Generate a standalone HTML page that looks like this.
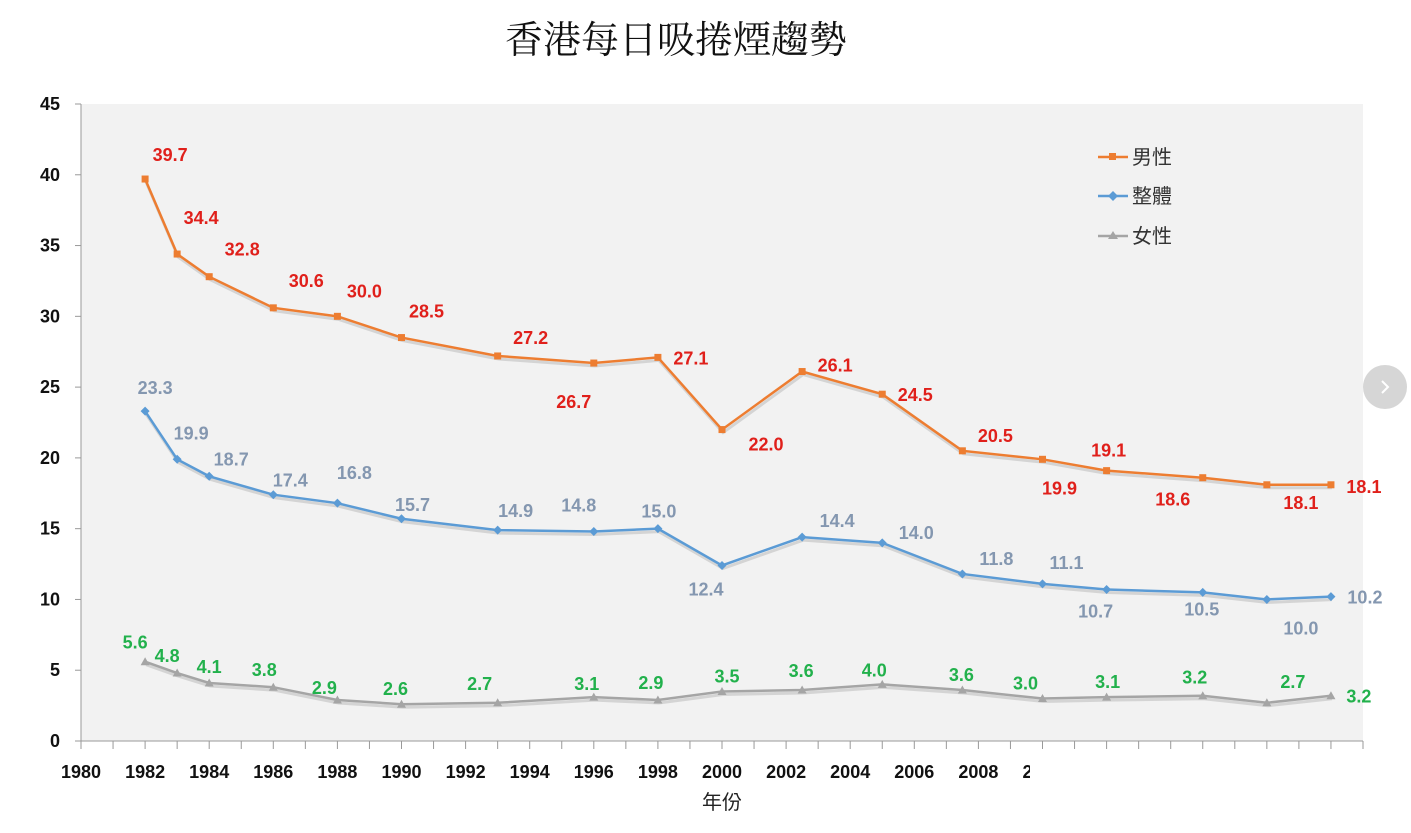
<!DOCTYPE html>
<html><head><meta charset="utf-8"><style>
body{margin:0;background:#fff;width:1411px;height:828px;overflow:hidden;font-family:"Liberation Sans","Noto Sans CJK TC",sans-serif}
svg text{font-family:"Liberation Sans","Noto Sans CJK TC",sans-serif}
</style></head><body>
<svg id="c" width="1411" height="828" xmlns="http://www.w3.org/2000/svg">
<text x="676" y="53" text-anchor="middle" font-size="38" style="font-family:'Noto Serif CJK TC','Noto Sans CJK TC',serif" fill="#111">香港每日吸捲煙趨勢</text>
<rect x="81" y="104" width="1282" height="637" fill="#f2f2f2"/>
<g id="axes"></g><g id="series"></g>
<text x="722" y="809" text-anchor="middle" font-size="20" fill="#222">年份</text>
<g>
<g><line x1="1098" y1="157" x2="1128" y2="157" stroke="#ed7d31" stroke-width="2.5"/><rect x="1109" y="153" width="7" height="7" fill="#ed7d31"/><text x="1132" y="164" font-size="20" fill="#333">男性</text></g>
<g><line x1="1098" y1="196" x2="1128" y2="196" stroke="#5b9bd5" stroke-width="2.5"/><path d="M1113 191l5 5-5 5-5-5z" fill="#5b9bd5"/><text x="1132" y="203" font-size="20" fill="#333">整體</text></g>
<g><line x1="1098" y1="236" x2="1128" y2="236" stroke="#a5a5a5" stroke-width="2.5"/><path d="M1113 231l5 8h-10z" fill="#a5a5a5"/><text x="1132" y="243" font-size="20" fill="#333">女性</text></g>
</g>
<rect x="1030" y="758" width="381" height="70" fill="#fff"/>
<g><circle cx="1385" cy="387" r="22" fill="#d6d6d6"/><path d="M1382 381l6 6-6 6" stroke="#fff" stroke-width="2" fill="none"/></g>
</svg>
<script>
const years=[1982,1983,1984,1986,1988,1990,1993,1996,1998,2000,2002.5,2005,2007.5,2010,2012,2015,2017,2019];
const male=[39.7,34.4,32.8,30.6,30.0,28.5,27.2,26.7,27.1,22.0,26.1,24.5,20.5,19.9,19.1,18.6,18.1,18.1];
const overall=[23.3,19.9,18.7,17.4,16.8,15.7,14.9,14.8,15.0,12.4,14.4,14.0,11.8,11.1,10.7,10.5,10.0,10.2];
const female=[5.6,4.8,4.1,3.8,2.9,2.6,2.7,3.1,2.9,3.5,3.6,4.0,3.6,3.0,3.1,3.2,2.7,3.2];
const yTicks=[0,5,10,15,20,25,30,35,40,45];
const xTickLabels=[1980,1982,1984,1986,1988,1990,1992,1994,1996,1998,2000,2002,2004,2006,2008,2010];
const maleDx=[25,24,33,33,27,25,33,-20,33,44,33,33,33,17,2,-30,34,33],maleDy=[-24,-36,-27,-27,-25,-26,-18,39,1,15,-6,1,-15,29,-20,22,18,2];
const ovDx=[10,14,22,17,17,11,18,-15,1,-16,35,34,34,24,-11,-1,34,34],ovDy=[-23,-26,-17,-14,-30,-14,-19,-26,-17,24,-16,-10,-15,-21,22,17,29,1];
const feDx=[-10,-10,0,-9,-13,-6,-18,-7,-7,5,-1,-8,-1,-17,1,-8,26,28],feDy=[-19,-17,-16,-17,-12,-15,-19,-13,-17,-15,-19,-14,-15,-15,-15,-18,-21,1];
const NS="http://www.w3.org/2000/svg";
const X=y=>81+(y-1980)*32.05, Y=v=>741-v*637/45;
function mk(t,a,p){const e=document.createElementNS(NS,t);for(const k in a)e.setAttribute(k,a[k]);p.appendChild(e);return e;}
const ax=document.getElementById('axes');
mk('line',{x1:81,y1:104,x2:81,y2:741,stroke:'#999'},ax);
mk('line',{x1:81,y1:741,x2:1363,y2:741,stroke:'#999'},ax);
yTicks.forEach(v=>{const t=mk('text',{x:60,y:Y(v)+6,'text-anchor':'end','font-size':18,'font-weight':'bold',fill:'#111'},ax);t.textContent=v;


mk('line',{x1:75,y1:Y(v),x2:81,y2:Y(v),stroke:'#999'},ax);});
for(let y=1980;y<=2020;y++)mk('line',{x1:X(y),y1:741,x2:X(y),y2:749,stroke:'#999'},ax);
xTickLabels.forEach(y=>{const t=mk('text',{x:X(y),y:778,'text-anchor':'middle','font-size':18,'font-weight':'bold',fill:'#111'},ax);t.textContent=y;

});
const sg=document.getElementById('series');
function series(vals,color,lc,dx,dy,shape,name){
 const g=mk('g',{},sg);
 
 
 const pts=vals.map((v,i)=>X(years[i])+','+Y(v)).join(' ');
 mk('polyline',{points:pts,fill:'none',stroke:'#000','stroke-opacity':0.12,'stroke-width':3,transform:'translate(1,3)'},g);
 const l=mk('polyline',{points:pts,fill:'none',stroke:color,'stroke-width':2.5},g);
 
 
 vals.forEach((v,i)=>{const x=X(years[i]),y=Y(v);let m;
  if(shape=='sq')m=mk('rect',{x:x-3.5,y:y-3.5,width:7,height:7,fill:color},g);
  else if(shape=='di')m=mk('path',{d:`M${x} ${y-4.5}l4.5 4.5-4.5 4.5-4.5-4.5z`,fill:color},g);
  else m=mk('path',{d:`M${x} ${y-4.5}l4.5 8h-9z`,fill:color},g);
  
  
  const t=mk('text',{x:x+dx[i],y:y+dy[i]+6,'text-anchor':'middle','font-size':18,'font-weight':'bold',fill:lc},g);
  t.textContent=v.toFixed(1);
  
  });
}
series(female,'#a5a5a5','#22b14c',feDx,feDy,'tr','female');
series(overall,'#5b9bd5','#8497b0',ovDx,ovDy,'di','overall');
series(male,'#ed7d31','#e0201b',maleDx,maleDy,'sq','male');
</script>
</body></html>
